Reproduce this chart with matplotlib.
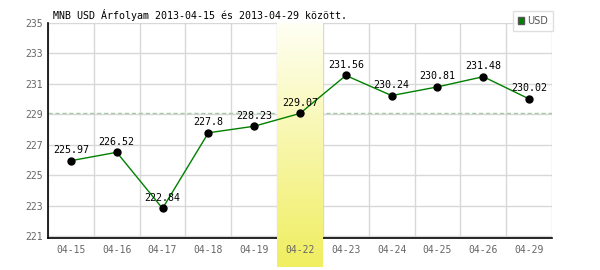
import numpy as np
import matplotlib
matplotlib.use('Agg')
import matplotlib.pyplot as plt
from matplotlib.patches import Patch

dates = ['04-15', '04-16', '04-17', '04-18', '04-19', '04-22',
         '04-23', '04-24', '04-25', '04-26', '04-29']
usd = [225.97, 226.52, 222.84, 227.8, 228.23, 229.07,
       231.56, 230.24, 230.81, 231.48, 230.02]
yticks = [221, 223, 225, 227, 229, 231, 233, 235]
highlight = '04-22'
ref_value = 229.07
title = 'MNB USD Árfolyam 2013-04-15 és 2013-04-29 között.'

mono = 'DejaVu Sans Mono'
grid_c = '#d8d8d8'

fig = plt.figure(figsize=(6, 2.7), dpi=100)
ax = fig.add_axes([48/600, 1-238/270, 504/600, 215/270])
x = np.arange(len(dates))
ax.set_xlim(-0.5, len(dates)-0.5)
ax.set_ylim(220.9, 235)

# grid, drawn by hand so the highlight band can sit over it
for yv in yticks:
    ax.axhline(yv, color=grid_c, lw=1, zorder=0.5)
for xv in np.arange(-0.5, len(dates)):
    ax.axvline(xv, color=grid_c, lw=1, zorder=0.5)
ax.axhline(ref_value, color='#a8c8a8', lw=1, ls=(0, (3, 2)), zorder=0.6)

# highlighted day with vertical gradient
hi = dates.index(highlight)
grad = np.linspace(0, 1, 256).reshape(-1, 1)
cmap = matplotlib.colors.LinearSegmentedColormap.from_list('yl', ['#fffff4', '#f0ee60'])
ax.imshow(grad, cmap=cmap, aspect='auto', extent=(hi-0.5, hi+0.5, 219.0, 235),
          origin='upper', zorder=1, clip_on=False)
ax.set_xlim(-0.5, len(dates)-0.5)
ax.set_ylim(220.9, 235)

ax.plot(x, usd, color='#008000', lw=1, zorder=3)
ax.plot(x, usd, 'o', color='black', ms=5, zorder=4)
for xi, v in zip(x, usd):
    ax.annotate(f'{v:g}', (xi, v), xytext=(0, 4), textcoords='offset points',
                ha='center', va='bottom', fontsize=7.2, family=mono, zorder=5)

for s in ['top', 'right']:
    ax.spines[s].set_visible(False)
for s in ['left', 'bottom']:
    ax.spines[s].set_color('black')
    ax.spines[s].set_linewidth(1.2)
    ax.spines[s].set_zorder(0.8)

ax.set_xticks(x)
ax.set_xticklabels(dates)
ax.set_yticks(yticks)
ax.tick_params(length=0, labelsize=7, labelcolor='#666666')
ax.tick_params(axis='x', pad=5)
ax.tick_params(axis='y', pad=4)
for lab in ax.get_xticklabels() + ax.get_yticklabels():
    lab.set_family(mono)
ax.xaxis.set_zorder(2)
ax.yaxis.set_zorder(2)

fig.text(53/600, 1-15/270, title, fontsize=7.2, family=mono, va='center', ha='left')

leg = fig.legend(handles=[Patch(facecolor='#008000', edgecolor='#555555', label='USD')],
                 loc='upper right', bbox_to_anchor=(553/600, 1-11/270),
                 fontsize=7, frameon=True, fancybox=False, edgecolor=grid_c,
                 handlelength=0.7, handleheight=0.7, handletextpad=0.3,
                 borderpad=0.5, borderaxespad=0)
leg.get_frame().set_linewidth(1)
for t in leg.get_texts():
    t.set_color('#555555')

fig.savefig('out.png', dpi=100)
